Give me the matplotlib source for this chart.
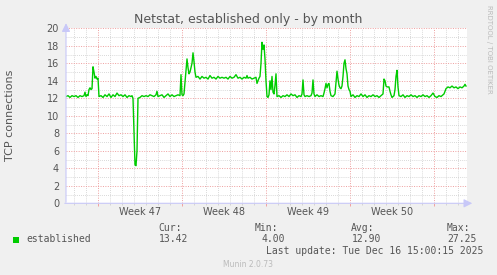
import matplotlib
matplotlib.use('Agg')
import matplotlib.pyplot as plt
from matplotlib.ticker import MultipleLocator, FixedLocator, NullFormatter

# ---- data (hours since start of graph window) ----
hours = [
    0, 4, 8, 12, 16, 20, 24, 28, 32, 36,
    38, 40, 42, 44, 46, 48, 50, 52, 54, 56,
    58, 60, 62, 64, 66, 70, 74, 78, 82, 86,
    90, 94, 98, 102, 106, 110, 114, 118, 122, 126,
    130, 132, 134, 136, 138, 140, 142, 144, 148, 152,
    156, 160, 164, 168, 172, 176, 180, 182, 184, 188,
    192, 196, 200, 204, 208, 212, 216, 220, 224, 228,
    230, 232, 234, 236, 238, 240, 242, 244, 246, 248,
    252, 254, 256, 258, 260, 264, 268, 272, 276, 280,
    284, 288, 292, 296, 300, 304, 308, 312, 316, 320,
    324, 328, 332, 336, 340, 344, 348, 352, 356, 360,
    362, 364, 368, 372, 376, 380, 382, 384, 386, 388,
    390, 392, 394, 396, 398, 400, 402, 404, 406, 408,
    410, 412, 414, 416, 418, 420, 422, 426, 430, 434,
    438, 442, 446, 450, 454, 458, 462, 466, 470, 472,
    474, 476, 478, 482, 486, 490, 492, 494, 496, 498,
    502, 506, 510, 514, 516, 518, 520, 522, 524, 526,
    528, 530, 534, 538, 540, 542, 544, 546, 548, 550,
    552, 554, 556, 558, 560, 562, 564, 566, 568, 570,
    574, 578, 582, 586, 590, 594, 598, 602, 606, 610,
    614, 618, 622, 626, 630, 634, 636, 638, 640, 642,
    646, 648, 650, 652, 656, 658, 660, 662, 664, 666,
    670, 674, 678, 682, 686, 690, 694, 698, 702, 706,
    710, 714, 718, 722, 726, 730, 734, 738, 742, 746,
    750, 754, 756, 760, 764, 768, 772, 776, 780, 784,
    788, 792, 796, 798, 800,
]
tcp = [
    12.2, 12.3, 12.1, 12.3, 12.2, 12.3, 12.1, 12.3, 12.2, 12.3,
    12.7, 12.2, 12.4, 12.3, 13.0, 13.2, 13.0, 13.1, 15.6, 15.0,
    14.3, 14.5, 14.2, 14.3, 12.2, 12.3, 12.1, 12.4, 12.2, 12.5,
    12.1, 12.4, 12.2, 12.6, 12.3, 12.4, 12.2, 12.4, 12.1, 12.3,
    12.2, 12.3, 12.0, 8.0, 4.4, 4.3, 6.0, 12.0, 12.1, 12.3,
    12.2, 12.3, 12.2, 12.4, 12.3, 12.2, 12.4, 12.8, 12.2, 12.3,
    12.4, 12.1, 12.3, 12.5, 12.2, 12.4, 12.2, 12.3, 12.4, 12.3,
    14.7, 12.4, 12.3, 12.5, 13.8, 15.0, 16.5, 15.5, 14.8, 15.0,
    16.0, 17.2, 16.2, 15.0, 14.4, 14.5, 14.2, 14.5, 14.3, 14.4,
    14.2, 14.6, 14.3, 14.4, 14.2, 14.5, 14.3, 14.4, 14.3, 14.4,
    14.2, 14.5, 14.3, 14.4, 14.7, 14.3, 14.4, 14.2, 14.4, 14.3,
    14.6, 14.3, 14.4, 14.2, 14.3, 14.4, 13.7, 14.0, 14.3, 14.5,
    16.0, 18.4, 17.6, 18.1, 16.5, 14.0, 12.2, 12.1, 12.4, 14.0,
    13.0, 14.5, 12.7, 12.5, 13.5, 14.8, 12.2, 12.3, 12.1, 12.3,
    12.2, 12.4, 12.2, 12.5, 12.3, 12.4, 12.1, 12.3, 12.2, 12.5,
    14.1, 12.4, 12.2, 12.3, 12.2, 12.3, 12.6, 14.1, 12.5, 12.2,
    12.4, 12.2, 12.3, 12.2, 12.6, 13.1, 13.7, 13.2, 13.6, 13.7,
    12.8, 12.3, 12.2, 12.5, 13.8, 15.1, 14.2, 13.5, 13.2, 13.1,
    13.4, 14.5, 16.0, 16.4, 15.4, 14.8, 13.4, 13.0, 12.8, 12.2,
    12.4, 12.1, 12.3, 12.2, 12.5, 12.2, 12.4, 12.1, 12.3, 12.2,
    12.4, 12.2, 12.3, 12.1, 12.3, 12.5, 14.2, 14.0, 13.4, 13.3,
    13.3, 12.8, 12.4, 12.1, 12.3, 13.0, 14.5, 15.2, 13.3, 12.3,
    12.2, 12.4, 12.1, 12.3, 12.2, 12.4, 12.2, 12.3, 12.1, 12.3,
    12.2, 12.4, 12.2, 12.3, 12.1, 12.3, 12.6, 12.2, 12.1, 12.3,
    12.2, 12.4, 12.5, 13.1, 13.3, 13.2, 13.4, 13.2, 13.3, 13.1,
    13.3, 13.2, 13.4, 13.6, 13.4,
]
week_starts = [64.6, 232.6, 400.6, 568.6, 736.6]
week_labels = ["Week 47", "Week 48", "Week 49", "Week 50"]
series_name = "established"
stat_names = ["Cur:", "Min:", "Avg:", "Max:"]
stat_values = ["13.42", "4.00", "12.90", "27.25"]
title = "Netstat, established only - by month"
ylabel = "TCP connections"
last_update = "Last update: Tue Dec 16 15:00:15 2025"

W, H = 497, 275
TXT = '#555555'
fig = plt.figure(figsize=(W / 100, H / 100), dpi=100, facecolor='#F0F0F0')
ax = fig.add_axes([66 / W, (H - 203.3) / H, 401 / W, 175 / H])
ax.set_facecolor('white')
ax.plot(hours, tcp, color='#00CC00', lw=1.0, zorder=3)
ax.set_xlim(0, 802)
ax.set_ylim(0, 20)

ax.yaxis.set_major_locator(MultipleLocator(2))
ax.yaxis.set_minor_locator(MultipleLocator(1))
ax.xaxis.set_major_locator(FixedLocator(week_starts))
days = [week_starts[0] - 48 + 24 * k for k in range(40) if week_starts[0] - 48 + 24 * k < 802]
ax.xaxis.set_minor_locator(FixedLocator(days))
ax.xaxis.set_major_formatter(NullFormatter())
ax.tick_params(axis='y', which='both', length=0)
ax.tick_params(axis='x', which='major', length=2.5, width=0.7, color='#F0A0A0', direction='out')
ax.tick_params(axis='x', which='minor', length=1.5, width=0.6, color='#CFCFCF', direction='out')
ax.tick_params(axis='y', labelsize=7, labelcolor=TXT, pad=5)

ax.grid(which='minor', color='#CCCCCC', linestyle=(0, (1, 1.5)), linewidth=0.6, zorder=1)
ax.grid(which='major', color='#EE9E9E', linestyle=(0, (1, 1.5)), linewidth=0.7, zorder=2)
ax.set_axisbelow(True)
for s in ax.spines.values():
    s.set_visible(False)

axc = '#C8C8F8'
ax.annotate('', xy=(0, 1.045), xytext=(0, -0.01), xycoords='axes fraction',
            arrowprops=dict(arrowstyle='-|>,head_length=0.5,head_width=0.25', color=axc, lw=0.8),
            annotation_clip=False)
ax.annotate('', xy=(1.02, 0), xytext=(-0.01, 0), xycoords='axes fraction',
            arrowprops=dict(arrowstyle='-|>,head_length=0.5,head_width=0.25', color=axc, lw=0.8),
            annotation_clip=False)

for i, lab in enumerate(week_labels):
    mid = (week_starts[i] + week_starts[i + 1]) / 2
    ax.text(mid, -0.05, lab, transform=ax.get_xaxis_transform(), ha='center', va='center',
            fontsize=7, color=TXT)

def ft(x, y, s, **kw):
    fig.text(x / W, 1 - y / H, s, **kw)

ft(248.5, 19, title, ha='center', va='center', fontsize=9, color=TXT)
ft(10.5, 115.7, ylabel, ha='center', va='center', rotation=90, fontsize=8, color=TXT)
ft(489, 5, "RRDTOOL / TOBI OETIKER", ha='center', va='top', rotation=270, fontsize=5, color='#BBBBBB')

mono = dict(family='DejaVu Sans Mono', fontsize=7, color=TXT, va='center')
fig.patches.append(plt.Rectangle((13 / W, 1 - 242.5 / H), 6 / W, 6 / H, transform=fig.transFigure,
                                 facecolor='#00CC00', edgecolor='none'))
ft(26, 239.5, series_name, ha='left', **mono)
stat_x = [158, 255, 351, 447]
val_right = [188, 285, 381, 477]
for sx, vr, n, v in zip(stat_x, val_right, stat_names, stat_values):
    ft(sx, 228, n, ha='left', **mono)
    ft(vr, 239.5, v, ha='right', **mono)
ft(483, 251.5, last_update, ha='right', **mono)
ft(248, 264.5, "Munin 2.0.73", ha='center', va='center', fontsize=5.5, color='#BBBBBB')

fig.savefig('out.png', dpi=100, facecolor=fig.get_facecolor())
